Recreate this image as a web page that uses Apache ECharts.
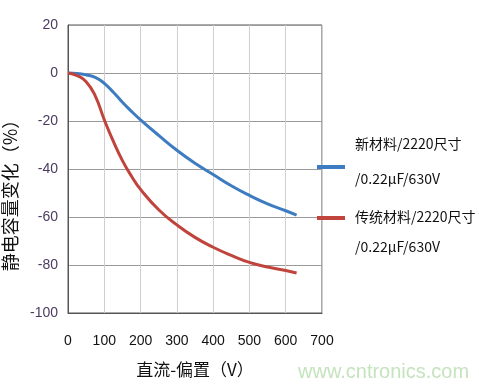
<!DOCTYPE html>
<html>
<head>
<meta charset="utf-8">
<script src="https://cdn.jsdelivr.net/npm/echarts@6/dist/echarts.min.js"></script>
<style>html,body{margin:0;padding:0;background:#fff;}#c{width:479px;height:390px;}</style>
</head>
<body>
<div id="c"></div>
<script>
const xValues = [0, 25, 50, 75, 100, 125, 150, 175, 200, 250, 300, 350, 400, 450, 500, 550, 600, 630];
const newMaterial = [0, -0.2, -0.8, -1.8, -4.3, -8, -12.2, -16, -19.5, -26, -32.2, -37.6, -42.3, -47, -51, -54.5, -57.4, -59.2];
const oldMaterial = [0, -1.1, -3.6, -9.5, -19.5, -28.5, -36.5, -43, -48.5, -57, -63.3, -68.5, -72.6, -76, -78.9, -80.8, -82.3, -83.3];
const seriesNames = ['新材料/2220尺寸', '传统材料/2220尺寸'];
const seriesSub = '/0.22μF/630V';
const xTicks = [0, 100, 200, 300, 400, 500, 600, 700];
const yTicks = [20, 0, -20, -40, -60, -80, -100];
const xName = '直流-偏置（V）';
const yName = '静电容量变化（%）';

const chart = echarts.init(document.getElementById('c'));
const cjk = '"Noto Sans CJK SC", "Noto Sans", sans-serif';
const num = '"Liberation Sans Narrow", "Liberation Sans", sans-serif';
const legendText = (txt, top) => ({
  type: 'text', left: 355, top: top,
  style: { text: txt, fill: '#111', font: '14px ' + cjk, verticalAlign: 'middle' }
});
chart.setOption({
  animation: false,
  grid: { left: 68, right: 157, top: 25, bottom: 77, show: true, borderColor: '#555', borderWidth: 1, outerBoundsMode: 'none', containLabel: false },
  xAxis: {
    type: 'value', min: xTicks[0], max: xTicks[xTicks.length - 1], interval: 100,
    axisLine: { show: true, onZero: false, lineStyle: { color: '#555' } },
    axisTick: { show: false },
    axisLabel: { color: '#111', fontSize: 14, fontFamily: num, margin: 21 },
    splitLine: { show: true, lineStyle: { color: '#cfcfcf', width: 1 } },
    name: xName, nameLocation: 'middle', nameGap: 48,
    nameTextStyle: { color: '#111', fontSize: 17, fontFamily: cjk }
  },
  yAxis: {
    type: 'value', min: yTicks[yTicks.length - 1], max: yTicks[0], interval: 20,
    axisLine: { show: true, onZero: false, lineStyle: { color: '#555' } },
    axisTick: { show: false },
    axisLabel: { color: '#4a3b5e', fontSize: 14, fontFamily: num, margin: 10 },
    splitLine: { show: true, lineStyle: { color: '#9a9a9a', width: 1 } },
    name: yName, nameLocation: 'middle', nameGap: 47, nameRotate: 90,
    nameTextStyle: { color: '#111', fontSize: 18, fontFamily: cjk, padding: [0, 44, 0, 0] }
  },
  legend: [
    {
      data: [seriesNames[0]], left: 317, top: 165, padding: 0,
      itemWidth: 28, itemHeight: 4, icon: 'rect', formatter: () => ''
    },
    {
      data: [seriesNames[1]], left: 317, top: 216, padding: 0,
      itemWidth: 28, itemHeight: 4, icon: 'rect', formatter: () => ''
    }
  ],
  graphic: [
    legendText(seriesNames[0], 137),
    legendText(seriesSub, 172),
    legendText(seriesNames[1], 210),
    legendText(seriesSub, 240),
    {
      type: 'text', left: 298, top: 362,
      style: { text: 'www.cntronics.com', fill: '#c5e3bd', font: '20px "Liberation Sans", sans-serif' }
    }
  ],
  series: [
    { name: seriesNames[0], type: 'line', smooth: true, showSymbol: false, data: xValues.map((x, i) => [x, newMaterial[i]]), lineStyle: { color: '#3d7cc0', width: 3 }, itemStyle: { color: '#3d7cc0' } },
    { name: seriesNames[1], type: 'line', smooth: true, showSymbol: false, data: xValues.map((x, i) => [x, oldMaterial[i]]), lineStyle: { color: '#c0443c', width: 3 }, itemStyle: { color: '#c0443c' } }
  ]
});
</script>
</body>
</html>
